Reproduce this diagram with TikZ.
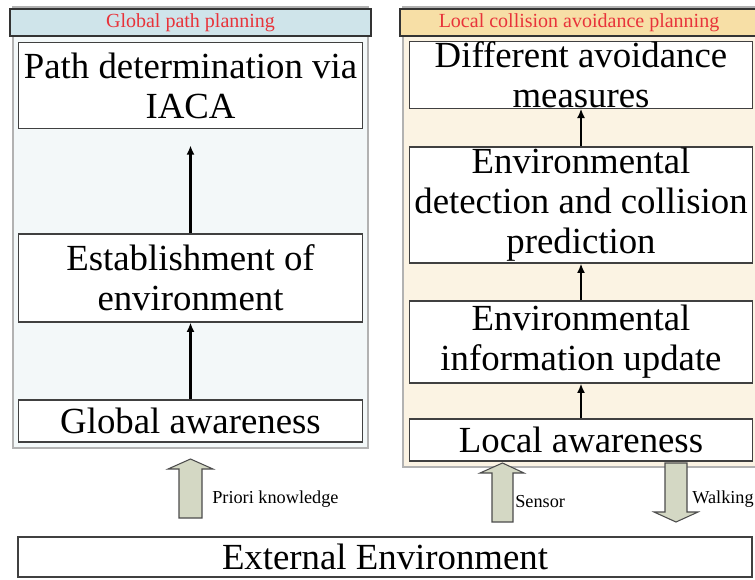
\documentclass[tikz,border=0pt]{standalone}
\usepackage{fontspec}
\setmainfont{Liberation Serif}
\usetikzlibrary{positioning, arrows.meta}

\definecolor{globalbg}{HTML}{F3F8F9}
\definecolor{globalhead}{HTML}{CFE4EA}
\definecolor{localbg}{HTML}{FBF3E3}
\definecolor{localhead}{HTML}{F7DFA6}
\definecolor{titlered}{HTML}{E8333A}
\definecolor{arrowfill}{HTML}{D4D8C4}

\begin{document}
\begin{tikzpicture}[
        x=0.75pt, y=-0.75pt,
        box/.style = {draw=black!75, fill=white, line width=0.8pt, minimum width=257.5pt, align=center, inner sep=0pt, font=\fontsize{27.6}{30}\selectfont},
        panel/.style = {draw=black!30, line width=0.8pt, inner sep=0pt, minimum width=266.25pt},
        header/.style = {draw=black!80, line width=0.8pt, minimum height=20.25pt, inner sep=0pt, text=titlered, font=\fontsize{15}{18}\selectfont},
        arrow/.style = {-{Latex[length=7pt,width=6pt]}, line width=1.8pt},
        bigarrow/.style = {draw=black!70, fill=arrowfill, line width=0.8pt},
        note/.style = {anchor=west, inner sep=0pt, font=\fontsize{13.7}{16}\selectfont}
      ]
      \useasboundingbox (0,0) rectangle (755,579);

      % ================= PANELS =================
      \node[panel, fill=globalbg, minimum height=330.75pt] (gpanel) at (190.5,227.5) {};
      \node[panel, fill=localbg, minimum height=345pt] (lpanel) at (580.5,237) {};
      \node[header, fill=globalhead, minimum width=270.75pt] (ghead) at (190.5,22.5) {Global path planning};
      \node[header, fill=localhead, minimum width=268.5pt] (lhead) at (579,22.5) {Local collision avoidance planning};

      % ================= GLOBAL =================
      \node[box, minimum height=65pt] (pathdet) at (190.5,85.5) {Path determination via\\IACA};
      \node[box, minimum height=66pt] (establish) at (190.5,278) {Establishment of\\environment};
      \node[box, minimum height=31.5pt] (gaware) at (190.5,421) {Global awareness};

      \draw[arrow] (gaware) -- (establish);
      \draw[arrow, shorten >=12pt] (establish) -- (pathdet);

      % ================= LOCAL =================
      \node[box, minimum height=49.5pt] (measures) at (581,75) {Different avoidance\\measures};
      \node[box, minimum height=87pt] (detect) at (581,205) {Environmental\\detection and collision\\prediction};
      \node[box, minimum height=61.5pt] (update) at (581,342) {Environmental\\information update};
      \node[box, minimum height=31.5pt] (laware) at (581,440) {Local awareness};

      \draw[arrow] (laware) -- (update);
      \draw[arrow] (update) -- (detect);
      \draw[arrow] (detect) -- (measures);

      % ================= EXTERNAL =================
      \node[box, minimum width=550.5pt, minimum height=30pt] (external) at (385,557) {External Environment};

      % block arrows
      \draw[bigarrow] (179,518) -- (179,469) -- (168,469) -- (190.5,459) -- (213,469) -- (202,469) -- (202,518) -- cycle;
      \draw[bigarrow] (492,522) -- (492,473) -- (480,473) -- (502.5,463) -- (524,473) -- (513,473) -- (513,522) -- cycle;
      \draw[bigarrow] (665,463) -- (665,512) -- (654,512) -- (676,522) -- (698,512) -- (687,512) -- (687,463) -- cycle;

      \node[note] (priori) at (212,499) {Priori knowledge};
      \node[note] (sensor) at (515,502) {Sensor};
      \node[note] (walking) at (692,499) {Walking};

    \end{tikzpicture}
\end{document}
